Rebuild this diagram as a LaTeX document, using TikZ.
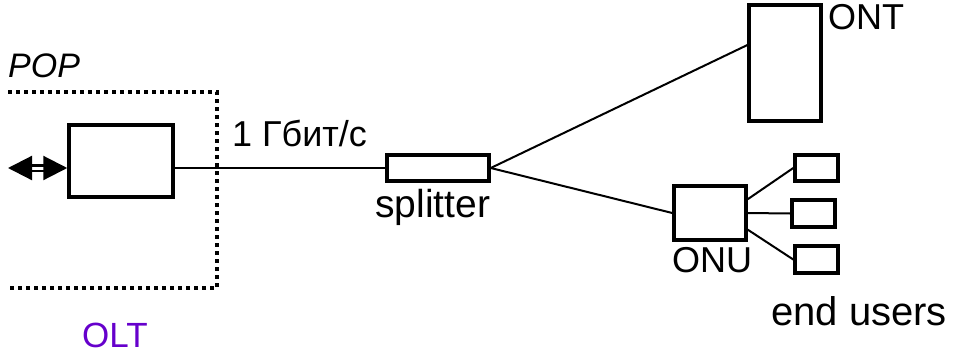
\documentclass[tikz,border=0pt]{standalone}
\usepackage{fontspec}
\setmainfont{Liberation Sans}
\usetikzlibrary{arrows.meta,calc}
\definecolor{oltpurple}{RGB}{102,0,204}
\begin{document}
\begin{tikzpicture}[x=1pt,y=1pt,
  box/.style={draw,line width=3.5pt,minimum width=#1,inner sep=0pt},
  conn/.style={line width=2pt},
  lbl/.style={anchor=base west,inner sep=0pt},
  dotbox/.style={line width=4pt,dash pattern=on 4pt off 4pt}]
\useasboundingbox (0,0) rectangle (961,-354);
% boxes
\node[box=104pt,minimum height=72pt] (olt) at (121,-161) {};
\node[box=102pt,minimum height=26pt] (spl) at (438,-168) {};
\node[box=72pt,minimum height=116pt] (ont) at (785,-63) {};
\node[box=72pt,minimum height=54pt] (onu) at (710,-213) {};
\node[box=43pt,minimum height=26pt] (u1) at (816.5,-168) {};
\node[box=43pt,minimum height=27pt] (u2) at (813.5,-213.5) {};
\node[box=43pt,minimum height=27pt] (u3) at (816.5,-259.5) {};
% dotted POP boundary
\coordinate (p1) at (8,-92);
\coordinate (p2) at (217,-92);
\coordinate (p3) at (217,-288);
\coordinate (p4) at (8,-288);
\draw[dotbox] (p1) -- (p2) -- (p3) -- (p4);
% double arrow
\coordinate (lend) at (8,-168);
\draw[line width=2.2pt,double distance=3pt,
  {Triangle[length=24pt,width=24pt]}-{Triangle[length=24pt,width=24pt]}]
  (lend) -- (lend -| olt.west);
% connectors
\draw[conn] (spl.west -| olt.east) -- (spl.west);
\draw[conn] (spl.east) -- ($(ont.north west)!0.35!(ont.south west)$);
\draw[conn] (spl.east) -- (onu.west);
\draw[conn] ($(onu.north east)!0.26!(onu.south east)$) -- (u1.west);
\draw[conn] (onu.east) -- (u2.west);
\draw[conn] ($(onu.north east)!0.79!(onu.south east)$) -- (u3.west);
% labels
\node[lbl,font=\fontsize{34}{40}\selectfont\itshape] (pop) at (8,-77) {POP};
\node[lbl,font=\fontsize{36}{42}\selectfont] (rate) at (232,-146) {1 Гбит/с};
\node[lbl,font=\fontsize{39}{44}\selectfont] (spltxt) at (375,-217) {splitter};
\node[lbl,font=\fontsize{36}{42}\selectfont] (onttxt) at (828,-29) {ONT};
\node[lbl,font=\fontsize{36}{42}\selectfont] (onutxt) at (672,-272) {ONU};
\node[lbl,font=\fontsize{40}{46}\selectfont] (endtxt) at (771,-325) {end users};
\node[lbl,font=\fontsize{35}{40}\selectfont,text=oltpurple] (olttxt) at (82,-347) {OLT};
\end{tikzpicture}
\end{document}
